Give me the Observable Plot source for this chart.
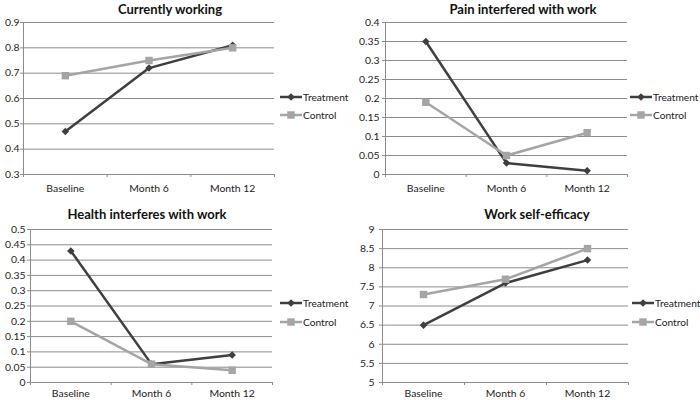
<!DOCTYPE html>
<html><head><meta charset="utf-8">
<script src="https://cdn.jsdelivr.net/npm/d3@7"></script>
<script src="https://cdn.jsdelivr.net/npm/@observablehq/plot@0.6"></script>
<style>
html,body{margin:0;padding:0;background:#fff}
#chart{position:relative;width:700px;height:400px;overflow:hidden;font-family:Lato, "Liberation Sans", sans-serif}
.panel{position:absolute}
.title{position:absolute;font-weight:bold;font-size:13px;color:#111;transform:translate(-50%,-50%);white-space:nowrap}
.legend{position:absolute;font-size:10.2px;color:#222}
.legend.item{display:flex;align-items:center;transform:translateY(-50%);white-space:nowrap;width:max-content}
</style></head>
<body><div id="chart"></div>
<script>
// ---- data ----
const categories = ["Baseline", "Month 6", "Month 12"];
const seriesNames = ["Treatment", "Control"];

const workingTreatment = [0.47, 0.72, 0.81];
const workingControl   = [0.69, 0.75, 0.80];
const workingTicks = [0.3, 0.4, 0.5, 0.6, 0.7, 0.8, 0.9];

const painTreatment = [0.35, 0.03, 0.01];
const painControl   = [0.19, 0.05, 0.11];
const painTicks = [0, 0.05, 0.1, 0.15, 0.2, 0.25, 0.3, 0.35, 0.4];

const healthTreatment = [0.43, 0.06, 0.09];
const healthControl   = [0.20, 0.06, 0.04];
const healthTicks = [0, 0.05, 0.1, 0.15, 0.2, 0.25, 0.3, 0.35, 0.4, 0.45, 0.5];

const efficacyTreatment = [6.5, 7.6, 8.2];
const efficacyControl   = [7.3, 7.7, 8.5];
const efficacyTicks = [5, 5.5, 6, 6.5, 7, 7.5, 8, 8.5, 9];

// ---- layout ----
const panels = [
  {title: "Currently working", t: workingTreatment, c: workingControl, ticks: workingTicks, pad: 1, xpad: 10,
   box: {left: 23, top: 22, right: 274, bottom: 174}, titleX: 170, titleY: 9, legendX: 280, legendY: [97, 115]},
  {title: "Pain interfered with work", t: painTreatment, c: painControl, ticks: painTicks, pad: 3, xpad: 10,
   box: {left: 385, top: 22, right: 627, bottom: 174}, titleX: 523, titleY: 9, legendX: 630, legendY: [97, 115]},
  {title: "Health interferes with work", t: healthTreatment, c: healthControl, ticks: healthTicks, pad: 2, xpad: 7,
   box: {left: 30, top: 229, right: 272, bottom: 382}, titleX: 147, titleY: 214, legendX: 280, legendY: [303, 322]},
  {title: "Work self-efficacy", t: efficacyTreatment, c: efficacyControl, ticks: efficacyTicks, pad: 5, xpad: 7,
   box: {left: 382, top: 229, right: 628, bottom: 382}, titleX: 537, titleY: 214, legendX: 632, legendY: [303, 322]}
];

const colors = {Treatment: "#3f3f3f", Control: "#a5a5a5"};
const grid = "#8c8c8c";
const fmt = d => String(+d.toFixed(2));

const chart = document.getElementById("chart");

panels.forEach(p => {
  const rows = s => categories.map((cat, i) => ({cat, pos: i + 0.5, value: (s === "Treatment" ? p.t : p.c)[i], series: s}));
  const tRows = rows("Treatment"), cRows = rows("Control");
  const mL = Math.min(34, p.box.left), mT = 6, mR = 4, mB = 24;
  const W = p.box.right - p.box.left + mL + mR;
  const H = p.box.bottom - p.box.top + mT + mB;

  const svg = Plot.plot({
    width: W, height: H,
    marginLeft: mL, marginRight: mR, marginTop: mT, marginBottom: mB,
    style: {fontFamily: "Lato, 'Liberation Sans', sans-serif", fontSize: "10.4px", background: "transparent", overflow: "visible"},
    x: {type: "linear", domain: [0, categories.length], label: null},
    y: {domain: [p.ticks[0], p.ticks[p.ticks.length - 1]], label: null},
    marks: [
      Plot.gridY(p.ticks, {stroke: grid, strokeOpacity: 1}),
      Plot.ruleX([0], {stroke: grid}),
      Plot.axisY(p.ticks, {tickSize: 3, tickPadding: p.pad, tickFormat: fmt, stroke: grid, fill: "#222", label: null}),
      Plot.axisX(d3.range(categories.length + 1), {tickSize: 3, tickFormat: () => "", stroke: grid, label: null}),
      Plot.axisX(categories.map((c, i) => i + 0.5), {tickSize: 0, tickPadding: p.xpad, tickFormat: d => categories[Math.floor(d)], fill: "#222", label: null}),
      Plot.line(tRows, {x: "pos", y: "value", stroke: colors.Treatment, strokeWidth: 2.5}),
      Plot.dot(tRows, {x: "pos", y: "value", symbol: "diamond2", r: 3.4, fill: colors.Treatment, stroke: "none"}),
      Plot.line(cRows, {x: "pos", y: "value", stroke: colors.Control, strokeWidth: 2.5}),
      Plot.dot(cRows, {x: "pos", y: "value", symbol: "square", r: 4.2, fill: colors.Control, stroke: "none"})
    ]
  });
  const div = document.createElement("div");
  div.className = "panel";
  div.style.left = (p.box.left - mL) + "px";
  div.style.top = (p.box.top - mT) + "px";
  div.appendChild(svg);
  chart.appendChild(div);

  const title = document.createElement("div");
  title.className = "title";
  title.textContent = p.title;
  title.style.left = p.titleX + "px";
  title.style.top = p.titleY + "px";
  chart.appendChild(title);

  seriesNames.forEach((s, k) => {
    const item = document.createElement("div");
    item.className = "legend item";
    item.style.left = p.legendX + "px";
    item.style.top = p.legendY[k] + "px";
    const sw = d3.create("svg").attr("width", 22).attr("height", 10);
    sw.append("line").attr("x1", 0).attr("x2", 22).attr("y1", 5).attr("y2", 5)
      .attr("stroke", colors[s]).attr("stroke-width", 2.5);
    const sym = s === "Treatment" ? d3.symbolDiamond2 : d3.symbolSquare;
    const size = s === "Treatment" ? Math.PI * 3.4 * 3.4 : Math.PI * 4.2 * 4.2;
    sw.append("path").attr("transform", "translate(11,5)").attr("d", d3.symbol(sym, size)()).attr("fill", colors[s]);
    item.appendChild(sw.node());
    const txt = document.createElement("span");
    txt.textContent = s;
    txt.style.marginLeft = "1px";
    item.appendChild(txt);
    chart.appendChild(item);
  });
});
</script>
</body></html>
